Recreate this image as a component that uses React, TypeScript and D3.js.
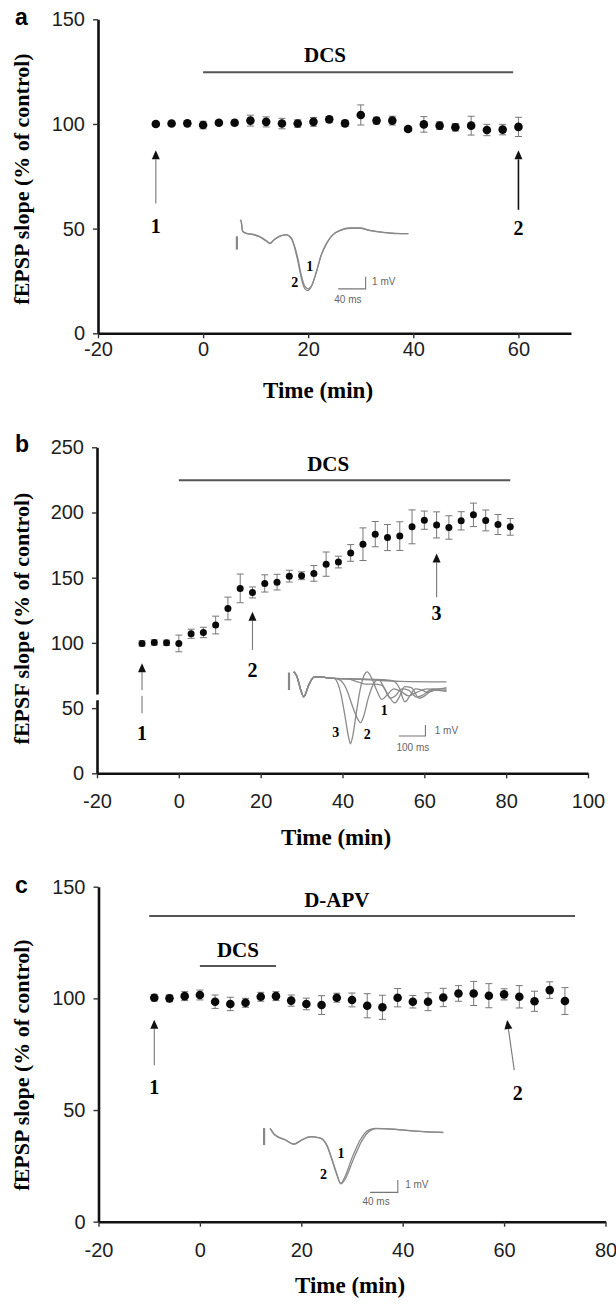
import React, { useRef, useEffect } from "react";
import * as d3 from "d3";

// panel a: DCS alone
const timeA = [-9, -6, -3, 0, 3, 6, 9, 12, 15, 18, 21, 24, 27, 30, 33, 36, 39, 42, 45, 48, 51, 54, 57, 60];
const slopeA = [100, 100.2, 100.3, 99.5, 100.6, 100.6, 101.6, 101, 100.2, 100.2, 101, 102.2, 100.3, 104.3, 101.6, 101.6, 97.6, 99.8, 99.2, 98.4, 99.2, 97.1, 97.3, 98.6];
const semA = [1, 1, 1.2, 1.8, 1, 1.2, 2.6, 2.4, 2.5, 1.8, 2.1, 1.4, 1.5, 4.8, 1.6, 2.1, 1.2, 3.7, 1.8, 1.8, 4.5, 2.7, 2.5, 4.6];

// panel b: DCS, potentiation
const timeB = [-9, -6, -3, 0, 3, 6, 9, 12, 15, 18, 21, 24, 27, 30, 33, 36, 39, 42, 45, 48, 51, 54, 57, 60, 63, 66, 69, 72, 75, 78, 81];
const slopeB = [99.6, 100.4, 100.1, 99.6, 107, 108, 113.7, 126.4, 141.8, 138.7, 145.6, 146.6, 151.2, 151.5, 153.3, 160.4, 162, 169, 175.7, 183.4, 180.8, 181.9, 189, 194.1, 190.5, 188.5, 193.6, 198.2, 193.9, 190.8, 189];
const semB = [2, 2, 2, 6.4, 3.5, 4, 6.8, 8.7, 11, 4.2, 6.6, 6, 4.5, 3, 6, 9.3, 4.5, 6.4, 12.5, 9.7, 10, 11, 13, 7, 10, 9, 7, 9, 8, 7.7, 6.4];

// panel c: DCS under D-APV
const timeC = [-9, -6, -3, 0, 3, 6, 9, 12, 15, 18, 21, 24, 27, 30, 33, 36, 39, 42, 45, 48, 51, 54, 57, 60, 63, 66, 69, 72];
const slopeC = [100.3, 100, 101, 101.5, 98.5, 97.5, 98, 100.7, 101, 99, 97.5, 97, 100.3, 99.3, 96.7, 96, 100.3, 98.5, 98.5, 100.4, 102.2, 102.2, 101.2, 101.8, 100.7, 98.7, 103.7, 98.8];
const semC = [1.5, 1.5, 2, 2.2, 3, 3, 2, 2, 2, 2.5, 2.6, 4.2, 2, 3.1, 5.4, 5.4, 4.1, 2.8, 4, 4.1, 3.5, 5.4, 5.4, 2.5, 5, 4.5, 3.7, 6];

const xTicksA = [-20, 0, 20, 40, 60];
const xTicksB = [-20, 0, 20, 40, 60, 80, 100];
const xTicksC = [-20, 0, 20, 40, 60, 80];
const yTicksA = [0, 50, 100, 150];
const yTicksB = [0, 50, 100, 150, 200, 250];
const yTicksC = [0, 50, 100, 150];

// example fEPSP traces for the insets (ms, mV)
const traceA1 = [[0, 1.1], [1.5, 1.1], [4, 0.2], [10, 0], [19, -0.08], [29, -0.28], [39, -0.64], [44, -0.83], [49, -0.56], [58, -0.22], [68, -0.08], [75, -0.36], [80, -1.06], [85, -2.17], [90, -3.56], [95, -4.4], [100, -4.6], [105, -4.3], [112, -3.14], [119, -1.75], [127, -0.78], [136, -0.08], [146, 0.28], [161, 0.47], [175, 0.47], [190, 0.28], [209, 0.11], [229, 0], [246, 0]];
const traceA2 = [[0, 1.1], [1.5, 1.1], [4, 0.2], [10, 0.02], [19, -0.05], [29, -0.25], [39, -0.6], [44, -0.8], [49, -0.55], [58, -0.2], [68, -0.1], [75, -0.42], [80, -1.2], [85, -2.4], [90, -3.8], [95, -4.6], [99, -4.75], [104, -4.45], [111, -3.3], [118, -1.9], [126, -0.85], [135, -0.12], [146, 0.25], [161, 0.45], [175, 0.45], [190, 0.26], [209, 0.1], [229, 0.02], [246, 0]];

const traceBStart = [[0, 0.56], [11, 0.2], [26, -1.0], [37, -1.57], [56, -0.57], [75, 0.1], [94, 0.14], [131, 0.03]];
const traceB3 = [[150, 0], [160, -0.2], [175, -1.2], [190, -3.0], [205, -5.0], [212, -5.6], [220, -5.0], [235, -2.8], [250, -0.8], [262, 0.2], [275, 0.56], [290, 0.1], [310, -1.0], [330, -1.8], [350, -1.4], [375, -0.9], [400, -1.1], [430, -1.5], [460, -1.2], [500, -0.9], [540, -1.0], [572, -1.0]];
const traceB2 = [[150, 0], [170, -0.1], [195, -0.8], [220, -2.4], [240, -3.5], [250, -3.8], [262, -3.2], [280, -1.6], [300, -0.4], [318, -0.1], [340, -0.9], [362, -1.7], [380, -1.5], [405, -0.9], [430, -1.0], [460, -1.6], [485, -1.4], [520, -0.9], [572, -0.9]];
const traceB1 = [[150, 0], [200, -0.05], [240, -0.3], [270, -0.5], [300, -0.5], [330, -0.6], [355, -1.5], [378, -2.1], [395, -1.6], [415, -0.7], [440, -0.8], [470, -1.7], [490, -1.5], [520, -1.0], [572, -1.1]];
const traceB0 = [[150, 0], [260, -0.05], [330, -0.1], [370, -0.2], [395, -0.8], [416, -2.0], [435, -1.5], [455, -0.9], [480, -1.0], [500, -1.2], [530, -1.0], [572, -0.8]];
const traceBFlat = [[150, 0], [260, -0.1], [400, -0.25], [572, -0.3]];

const traceC1 = [[0, 0.71], [7, 0.16], [22, -0.24], [34, -0.59], [46, -0.24], [58, 0.02], [72, -0.06], [82, -0.65], [89, -1.73], [96, -2.95], [102, -3.76], [108, -3.23], [118, -1.73], [130, -0.24], [142, 0.57], [152, 0.71], [180, 0.65], [209, 0.49], [250, 0.38]];
const traceC2 = [[0, 0.71], [7, 0.16], [22, -0.22], [34, -0.56], [46, -0.22], [58, 0.03], [72, -0.08], [82, -0.7], [89, -1.8], [96, -3.0], [102, -3.8], [109, -3.35], [120, -1.85], [132, -0.35], [144, 0.5], [154, 0.68], [180, 0.63], [209, 0.48], [250, 0.37]];

const SANS = "'Liberation Sans', Arial, sans-serif";
const SERIF = "'Liberation Serif', 'Times New Roman', serif";

const panels = [
  {
    letter: "a", letterY: 25,
    time: timeA, slope: slopeA, sem: semA, r: 4.3,
    xDomain: [-20, 70], yDomain: [0, 150], xTicks: xTicksA, yTicks: yTicksA,
    left: 98, right: 571, top: 19.3, bottom: 333.3, xPad: 4,
    yTitle: "fEPSP slope (% of control)", yTitleY: 179,
    xTitleX: 318, xTitleY: 398,
    bars: [{ from: 0, to: 59, at: 124.7, label: "DCS", lt: 23.2, lv: 129.5 }],
    arrows: [
      { t1: -9, v1: 62, t2: -9, v2: 87.4, label: "1", lt: -9, lv: 48, dark: false },
      { t1: 60, v1: 59, t2: 60, v2: 87.4, label: "2", lt: 60, lv: 47, dark: true },
    ],
    inset: {
      t0: 7.0, v0: 47.6, pxMs: 0.685, pxMv: 12,
      traces: [traceA1, traceA2],
      artifact: { t: -4.4, v1: -0.22, v2: -1.33 },
      labels: [{ text: "1", t: 102, v: -2.7 }, { text: "2", t: 80, v: -4.0 }],
      bar: { t1: 143.5, t2: 183.5, v1: -4.6, v2: -3.6, ms: "40 ms", msT: 157.7, msV: -5.75, mvT: 193, mvV: -4.25 },
    },
  },
  {
    letter: "b", letterY: 452,
    time: timeB, slope: slopeB, sem: semB, r: 3.5,
    xDomain: [-20, 100], yDomain: [0, 250], xTicks: xTicksB, yTicks: yTicksB,
    left: 97, right: 588, top: 447.3, bottom: 773.3, xPad: 16,
    yTitle: "fEPSF slope (% of control)", yTitleY: 618.5,
    xTitleX: 336, xTitleY: 845,
    // slanted gap across the y axis and the first arrow: [t, value] corners
    axisBreak: [[-21.7, 55.4], [-21.7, 59.8], [-7.5, 64.2], [-7.5, 59.9]],
    bars: [{ from: 0, to: 81, at: 224.8, label: "DCS", lt: 36.5, lv: 231.6 }],
    arrows: [
      { t1: -9, v1: 46, t2: -9, v2: 84.3, label: "1", lt: -9, lv: 25.5, dark: false },
      { t1: 18, v1: 94.5, t2: 18, v2: 123.8, label: "2", lt: 18, lv: 73.8, dark: false },
      { t1: 63, v1: 135, t2: 63, v2: 168.6, label: "3", lt: 63, lv: 117.5, dark: false },
    ],
    inset: {
      t0: 28.1, v0: 72.8, pxMs: 0.267, pxMv: 11.7,
      traces: [traceBFlat, traceB0, traceB1, traceB2, traceB3].map((tr) => traceBStart.concat(tr)),
      artifact: { t: -18, v1: 0.5, v2: -1.0 },
      labels: [{ text: "3", t: 157, v: -4.6 }, { text: "2", t: 275, v: -4.75 }, { text: "1", t: 339, v: -2.67 }],
      bar: { t1: 393, t2: 493, v1: -4.93, v2: -3.99, ms: "100 ms", msT: 446, msV: -6.2, mvT: 528, mvV: -4.76 },
    },
  },
  {
    letter: "c", letterY: 893,
    time: timeC, slope: slopeC, sem: semC, r: 4.3,
    xDomain: [-20, 80], yDomain: [0, 150], xTicks: xTicksC, yTicks: yTicksC,
    left: 98.5, right: 605.5, top: 886.7, bottom: 1221.7, xPad: 16,
    yTitle: "fEPSP slope (% of control)", yTitleY: 1065,
    xTitleX: 350, xTitleY: 1293,
    bars: [
      { from: -10, to: 74, at: 136.9, label: "D-APV", lt: 27, lv: 141 },
      { from: 0, to: 15, at: 114.5, label: "DCS", lt: 7.5, lv: 118.6 },
    ],
    arrows: [
      { t1: -9, v1: 70, t2: -9, v2: 90.4, label: "1", lt: -9, lv: 57.4, dark: false },
      { t1: 62, v1: 67.9, t2: 60.6, v2: 90.3, label: "2", lt: 62.7, lv: 54.4, dark: false },
    ],
    inset: {
      t0: 13.85, v0: 37.9, pxMs: 0.6925, pxMv: 12.3,
      traces: [traceC1, traceC2],
      artifact: { t: -8.7, v1: 0.73, v2: -0.65 },
      labels: [{ text: "1", t: 102.5, v: -1.3 }, { text: "2", t: 77, v: -3.03 }],
      bar: { t1: 144.4, t2: 184.4, v1: -4.5, v2: -3.5, ms: "40 ms", msT: 153, msV: -5.5, mvT: 195, mvV: -4.15 },
    },
  },
];

const drawPanel = (svg, p) => {
  const g = svg.append("g");
  const x = d3.scaleLinear().domain(p.xDomain).range([p.left, p.right]);
  const y = d3.scaleLinear().domain(p.yDomain).range([p.bottom, p.top]);

  // axes
  const gx = g
    .append("g")
    .attr("transform", `translate(0, ${p.bottom})`)
    .call(d3.axisBottom(x).tickValues(p.xTicks).tickSize(5).tickSizeOuter(0).tickPadding(p.xPad).tickFormat((d) => `${d}`));
  const gy = g
    .append("g")
    .attr("transform", `translate(${p.left}, 0)`)
    .call(d3.axisLeft(y).tickValues(p.yTicks).tickSize(5).tickSizeOuter(0).tickPadding(8));
  [gx, gy].forEach((ax) => {
    ax.attr("font-family", SANS).attr("font-size", 20);
    ax.select(".domain").attr("stroke", "#111").attr("stroke-width", 2.6);
    ax.selectAll(".tick line").attr("stroke", "#333").attr("stroke-width", 1.4);
    ax.selectAll(".tick text").attr("fill", "#1e1e1e");
  });

  // titles
  g.append("text")
    .attr("x", 15)
    .attr("y", p.letterY)
    .attr("font-family", SANS)
    .attr("font-weight", "bold")
    .attr("font-size", 23)
    .text(p.letter);
  g.append("text")
    .attr("transform", `translate(29, ${p.yTitleY}) rotate(-90)`)
    .attr("text-anchor", "middle")
    .attr("font-family", SERIF)
    .attr("font-weight", "bold")
    .attr("font-size", 22)
    .text(p.yTitle);
  g.append("text")
    .attr("x", p.xTitleX)
    .attr("y", p.xTitleY)
    .attr("text-anchor", "middle")
    .attr("font-family", SERIF)
    .attr("font-weight", "bold")
    .attr("font-size", 23)
    .text("Time (min)");

  // treatment bars
  p.bars.forEach((b) => {
    g.append("line")
      .attr("x1", x(b.from))
      .attr("x2", x(b.to))
      .attr("y1", y(b.at))
      .attr("y2", y(b.at))
      .attr("stroke", "#555")
      .attr("stroke-width", 2);
    g.append("text")
      .attr("x", x(b.lt))
      .attr("y", y(b.lv))
      .attr("text-anchor", "middle")
      .attr("font-family", SERIF)
      .attr("font-weight", "bold")
      .attr("font-size", 21)
      .text(b.label);
  });

  // arrows marking the sample traces
  p.arrows.forEach((a) => {
    const x1 = x(a.t1), y1 = y(a.v1), x2 = x(a.t2), y2 = y(a.v2);
    const len = Math.hypot(x2 - x1, y2 - y1);
    const ux = (x2 - x1) / len, uy = (y2 - y1) / len;
    const bx = x2 - ux * 9, by = y2 - uy * 9;
    g.append("line")
      .attr("x1", x1).attr("y1", y1).attr("x2", bx).attr("y2", by)
      .attr("stroke", a.dark ? "#111" : "#777")
      .attr("stroke-width", a.dark ? 1.6 : 1.1);
    g.append("path")
      .attr("d", `M${x2},${y2}L${bx - uy * 4},${by + ux * 4}L${bx + uy * 4},${by - ux * 4}Z`)
      .attr("fill", "#111");
    g.append("text")
      .attr("x", x(a.lt))
      .attr("y", y(a.lv))
      .attr("text-anchor", "middle")
      .attr("font-family", SERIF)
      .attr("font-weight", "bold")
      .attr("font-size", 20)
      .text(a.label);
  });

  // break in the y axis (drawn over axis and arrow)
  if (p.axisBreak) {
    g.append("path")
      .attr("d", d3.line().x((d) => x(d[0])).y((d) => y(d[1]))(p.axisBreak) + "Z")
      .attr("fill", "white");
  }

  // error bars
  const pts = p.time.map((t, i) => ({ t, v: p.slope[i], s: p.sem[i] }));
  const eb = g.append("g").attr("stroke", "#777").attr("stroke-width", 1);
  pts.forEach((d) => {
    const cx = x(d.t);
    eb.append("line").attr("x1", cx).attr("x2", cx).attr("y1", y(d.v - d.s)).attr("y2", y(d.v + d.s));
    [d.v - d.s, d.v + d.s].forEach((v) => {
      eb.append("line").attr("x1", cx - 3.5).attr("x2", cx + 3.5).attr("y1", y(v)).attr("y2", y(v));
    });
  });
  g.append("g")
    .selectAll("circle")
    .data(pts)
    .enter()
    .append("circle")
    .attr("cx", (d) => x(d.t))
    .attr("cy", (d) => y(d.v))
    .attr("r", p.r)
    .attr("fill", "#0a0a0a");

  // inset traces
  const ins = p.inset;
  const ox = x(ins.t0), oy = y(ins.v0);
  const ix = d3.scaleLinear().domain([0, 1]).range([ox, ox + ins.pxMs]);
  const iy = d3.scaleLinear().domain([0, 1]).range([oy, oy - ins.pxMv]);
  const line = d3.line().x((d) => ix(d[0])).y((d) => iy(d[1])).curve(d3.curveMonotoneX);
  const gi = g.append("g");
  ins.traces.forEach((tr) => {
    gi.append("path")
      .attr("d", line(tr))
      .attr("fill", "none")
      .attr("stroke", "#8a8a8a")
      .attr("stroke-width", 1.3);
  });
  gi.append("line")
    .attr("x1", ix(ins.artifact.t)).attr("x2", ix(ins.artifact.t))
    .attr("y1", iy(ins.artifact.v1)).attr("y2", iy(ins.artifact.v2))
    .attr("stroke", "#888").attr("stroke-width", 2.2);
  ins.labels.forEach((l) => {
    gi.append("text")
      .attr("x", ix(l.t))
      .attr("y", iy(l.v))
      .attr("dy", "0.35em")
      .attr("text-anchor", "middle")
      .attr("font-family", SERIF)
      .attr("font-weight", "bold")
      .attr("font-size", 14)
      .text(l.text);
  });
  const sb = ins.bar;
  gi.append("path")
    .attr("d", `M${ix(sb.t1)},${iy(sb.v1)}H${ix(sb.t2)}V${iy(sb.v2)}`)
    .attr("fill", "none")
    .attr("stroke", "#777")
    .attr("stroke-width", 1.1);
  gi.append("text")
    .attr("x", ix(sb.msT)).attr("y", iy(sb.msV))
    .attr("text-anchor", "middle")
    .attr("font-family", SANS).attr("font-size", 10).attr("fill", "#666")
    .text(sb.ms);
  gi.append("text")
    .attr("x", ix(sb.mvT)).attr("y", iy(sb.mvV))
    .attr("font-family", SANS).attr("font-size", 10).attr("fill", "#666")
    .text("1 mV");
};

const App = () => {
  const svgRef = useRef(null);

  useEffect(() => {
    const svg = d3.select(svgRef.current);
    svg.selectAll("*").remove();
    panels.forEach((p) => drawPanel(svg, p));
  }, []);

  return (
    <svg
      ref={svgRef}
      width={616}
      height={1304}
      style={{ position: "absolute", left: 0, top: 0, background: "white" }}
    />
  );
};

export default App;
